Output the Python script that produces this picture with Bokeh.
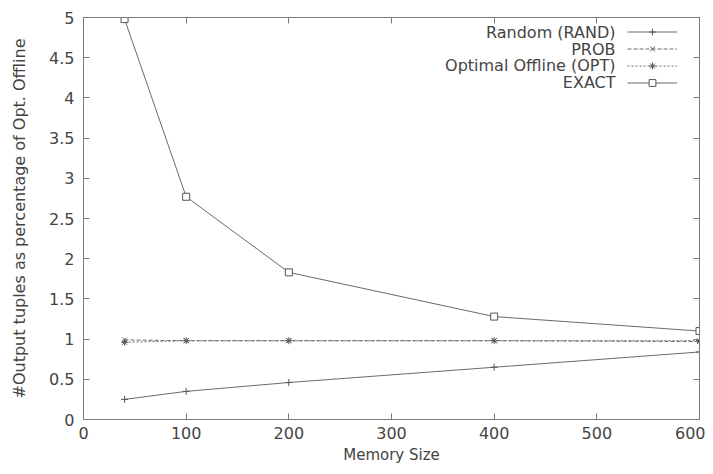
from bokeh.plotting import figure
from bokeh.models import (FixedTicker, LinearAxis, Range1d, Legend, LegendItem, Label)
from bokeh.embed import file_html
from bokeh.resources import INLINE

memory = [40, 100, 200, 400, 600]
rand_vals = [0.25, 0.35, 0.46, 0.65, 0.84]
prob_vals = [0.99, 0.98, 0.98, 0.98, 0.97]
opt_vals = [0.96, 0.98, 0.98, 0.98, 0.98]
exact_vals = [4.98, 2.77, 1.83, 1.28, 1.10]

x_ticks = [0, 100, 200, 300, 400, 500, 600]
y_ticks = [0, 0.5, 1, 1.5, 2, 2.5, 3, 3.5, 4, 4.5, 5]
series_names = ["Random (RAND)", "PROB", "Optimal Offline (OPT)", "EXACT"]

GRAY = "#6a6a6a"
FRAME = "#7a7a7a"
TXT = "#444444"
FONT = "DejaVu Sans"

p = figure(width=705, height=466, output_backend="svg", toolbar_location=None,
           x_range=Range1d(0, 600), y_range=Range1d(0, 5),
           min_border_left=83, min_border_right=6, min_border_top=17, min_border_bottom=47)
p.xgrid.visible = False
p.ygrid.visible = False
p.outline_line_color = FRAME
p.outline_line_width = 1
p.background_fill_color = "white"
p.border_fill_color = "white"

def style_axis(ax):
    ax.axis_line_color = FRAME
    ax.major_tick_line_color = FRAME
    ax.major_tick_in = 6
    ax.major_tick_out = 0
    ax.minor_tick_line_color = None
    ax.major_label_text_font = FONT
    ax.major_label_text_font_size = "16px"
    ax.major_label_text_color = TXT
    ax.axis_label_text_font = FONT
    ax.axis_label_text_font_size = "16px"
    ax.axis_label_text_color = TXT
    ax.axis_label_text_font_style = "normal"

p.xaxis.ticker = FixedTicker(ticks=x_ticks)
p.yaxis.ticker = FixedTicker(ticks=y_ticks)
p.xaxis.major_label_overrides = {t: str(t) for t in x_ticks}
p.yaxis.major_label_overrides = {t: (str(int(t)) if t == int(t) else str(t)) for t in y_ticks}
p.xaxis.axis_label = "Memory Size"
p.yaxis.axis_label = "#Output tuples as percentage of Opt. Offline"
style_axis(p.xaxis[0])
style_axis(p.yaxis[0])
p.xaxis.axis_label_text_font_size = "15px"
p.xaxis.major_label_standoff = 7
p.yaxis.major_label_standoff = 9
p.xaxis.axis_label_standoff = 4
p.yaxis.axis_label_standoff = 17

top = LinearAxis(ticker=FixedTicker(ticks=x_ticks),
                 major_label_overrides={t: "" for t in x_ticks}, major_label_standoff=0)
right = LinearAxis(ticker=FixedTicker(ticks=y_ticks),
                   major_label_overrides={t: "" for t in y_ticks}, major_label_standoff=0)
style_axis(top)
style_axis(right)
p.add_layout(top, "above")
p.add_layout(right, "right")

r_rand = p.line(memory, rand_vals, line_color=GRAY, line_width=1)
m_rand = p.scatter(memory, rand_vals, marker="cross", size=7, line_color="#555555")
r_prob = p.line(memory, prob_vals, line_color=GRAY, line_width=1, line_dash="4 2")
m_prob = p.scatter(memory, prob_vals, marker="x", size=7, line_color="#555555")
r_opt = p.line(memory, opt_vals, line_color=GRAY, line_width=1, line_dash="2 2")
m_opt = p.scatter(memory, opt_vals, marker="asterisk", size=7, line_color="#555555")
r_exact = p.line(memory, exact_vals, line_color=GRAY, line_width=1)
m_exact = p.scatter(memory, exact_vals, marker="square", size=7, line_color="#555555",
                    fill_color="white")

items = [LegendItem(label=" ", renderers=[r, m]) for r, m in
         [(r_rand, m_rand), (r_prob, m_prob), (r_opt, m_opt), (r_exact, m_exact)]]
leg = Legend(items=items, location=(544, 328), border_line_color=None,
             background_fill_alpha=0, glyph_width=50, glyph_height=17,
             label_height=17, label_width=0, label_standoff=0, spacing=0,
             padding=0, margin=0, label_text_font_size="8px")
p.add_layout(leg)

for i, name in enumerate(series_names):
    p.add_layout(Label(x=532, y=387 - i * 16.7, x_units="screen", y_units="screen",
                       text=name, text_align="right", text_baseline="middle",
                       text_font=FONT, text_font_size="16px", text_color=TXT))

open("out.html", "w").write(file_html(p, INLINE))
